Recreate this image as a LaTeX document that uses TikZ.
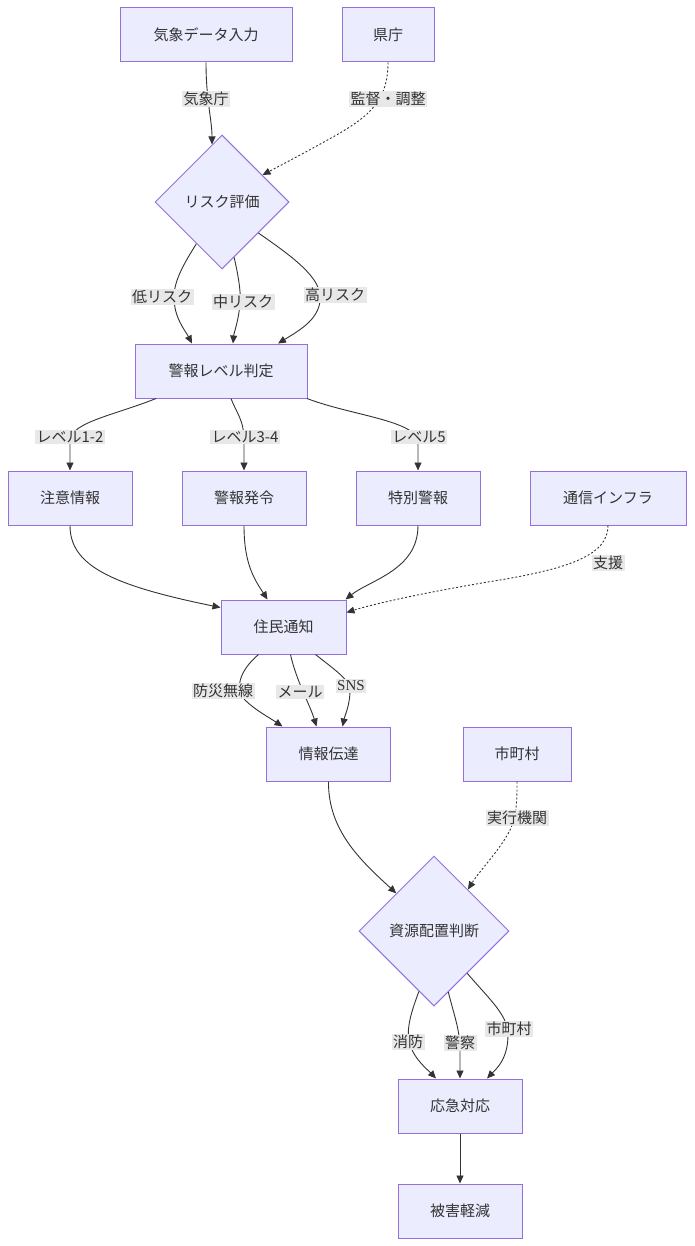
\documentclass[tikz,border=0pt]{standalone}
\usepackage{fontspec}
\setmainfont{Noto Sans CJK JP}
\newfontfamily\serifl{Liberation Serif}
\usetikzlibrary{arrows.meta,shapes.geometric,calc}
\definecolor{nodefill}{HTML}{ECECFF}
\definecolor{nodeline}{HTML}{9370DB}
\definecolor{edgecol}{HTML}{333333}
\definecolor{lblfill}{HTML}{E8E8E8}
\tikzset{
  box/.style={draw=nodeline, fill=nodefill, line width=1pt, minimum height=54pt, inner sep=0pt, text=edgecol, font=\fontsize{15}{18}\selectfont},
  dia/.style={diamond, aspect=1, draw=nodeline, fill=nodefill, line width=1pt, inner sep=0pt, text=edgecol, font=\fontsize{15}{18}\selectfont},
  lbl/.style={fill=lblfill, inner sep=1.5pt, text=edgecol, font=\fontsize{15}{18}\selectfont},
  arr/.style={draw=edgecol, line width=0.9pt, -{Triangle[length=8pt,width=7pt]}},
  dotarr/.style={arr, dash pattern=on 2pt off 2pt}
}
\begin{document}
\begin{tikzpicture}[x=1pt,y=-1pt]
\useasboundingbox (0,0) rectangle (694,1246);
% nodes
\node[box, minimum width=172pt] (in1) at (206,35) {気象データ入力};
\node[box, minimum width=92pt] (ken) at (388,35) {県庁};
\node[dia, minimum size=134pt] (risk) at (222,202) {リスク評価};
\node[box, minimum width=172pt] (lvl) at (221,371) {警報レベル判定};
\node[box, minimum width=124pt] (chui) at (70,498) {注意情報};
\node[box, minimum width=124pt] (keiho) at (244,498) {警報発令};
\node[box, minimum width=124pt] (toku) at (418,498) {特別警報};
\node[box, minimum width=156pt] (tsu) at (608,498) {通信インフラ};
\node[box, minimum width=125pt] (jumin) at (283.5,627) {住民通知};
\node[box, minimum width=124pt] (joho) at (328.5,754) {情報伝達};
\node[box, minimum width=108pt] (shicho) at (517,754) {市町村};
\node[dia, minimum size=150pt] (shigen) at (434,931) {資源配置判断};
\node[box, minimum width=124pt] (okyu) at (460,1106) {応急対応};
\node[box, minimum width=124pt] (higai) at (460,1211) {被害軽減};

% edges
\draw[arr] (in1.south) .. controls (206,100) and (212,120) .. ([xshift=-10pt,yshift=-10pt]risk.north);
\draw[dotarr] (ken.south) .. controls (388,100) and (370,115) .. (340,133) .. controls (310,150) and (285,163) .. ($(risk.north)!0.6!(risk.east)$);
\draw[arr] ($(risk.west)!0.62!(risk.south)$) .. controls (185,262) and (174,280) .. (174,297) .. controls (174,318) and (185,330) .. ([xshift=-29pt]lvl.north);
\draw[arr] ($(risk.south)!0.18!(risk.east)$) .. controls (238,275) and (241,290) .. (240,302) .. controls (239,320) and (234,332) .. ([xshift=12pt]lvl.north);
\draw[arr] ($(risk.south)!0.54!(risk.east)$) .. controls (290,255) and (318,275) .. (320,295) .. controls (322,318) and (300,330) .. ([xshift=57pt]lvl.north);
\draw[arr] ([xshift=-65pt]lvl.south) .. controls (115,415) and (72,422) .. (70,440) -- (chui.north);
\draw[arr] ([xshift=10pt]lvl.south) .. controls (236,412) and (244,420) .. (244,440) -- (keiho.north);
\draw[arr] ([xshift=86pt]lvl.south) .. controls (350,415) and (412,420) .. (418,440) -- (toku.north);
\draw[arr] (chui.south) .. controls (70,565) and (110,585) .. ([yshift=-8pt]jumin.north west);
\draw[arr] (keiho.south) .. controls (244,565) and (255,580) .. ([xshift=-16pt]jumin.north);
\draw[arr] (toku.south) .. controls (418,570) and (370,580) .. ([xshift=-1pt]jumin.north east);
\draw[dotarr] (tsu.south) .. controls (608,555) and (570,568) .. (500,580) .. controls (420,593) and (370,605) .. ([yshift=-13pt]jumin.north east);
\draw[arr] ([xshift=-25pt]jumin.south) .. controls (238,672) and (235,690) .. (245,700) .. controls (255,710) and (270,718) .. ([xshift=-46pt]joho.north);
\draw[arr] ([xshift=7pt]jumin.south) .. controls (296,680) and (310,705) .. ([xshift=-12pt]joho.north);
\draw[arr] ([xshift=32pt]jumin.south) .. controls (335,670) and (350,680) .. (350,690) .. controls (350,705) and (345,715) .. ([xshift=14pt]joho.north);
\draw[arr] (joho.south) .. controls (328,830) and (360,860) .. ($(shigen.north)!0.5!(shigen.west)$);
\draw[dotarr] (shicho.south) .. controls (517,800) and (517,815) .. (510,830) .. controls (500,850) and (480,870) .. ($(shigen.north)!0.45!(shigen.east)$);
\draw[arr] ($(shigen.west)!0.8!(shigen.south)$) .. controls (412,1010) and (405,1030) .. (410,1045) .. controls (415,1060) and (428,1070) .. ([xshift=-24pt]okyu.north);
\draw[arr] ($(shigen.south)!0.19!(shigen.east)$) .. controls (454,1015) and (460,1030) .. (460,1050) -- (okyu.north);
\draw[arr] ($(shigen.south)!0.44!(shigen.east)$) .. controls (490,1000) and (508,1015) .. (508,1035) .. controls (508,1060) and (495,1070) .. ([xshift=27pt]okyu.north);
\draw[arr] (okyu.south) -- (higai.north);

% labels
\node[lbl] (l1) at (206,99) {気象庁};
\node[lbl] (l2) at (388,99) {監督・調整};
\node[lbl] (l3) at (162,297) {低リスク};
\node[lbl] (l4) at (243,302) {中リスク};
\node[lbl] (l5) at (335,295) {高リスク};
\node[lbl] (l6) at (70,437) {レベル1-2};
\node[lbl] (l7) at (245,437) {レベル3-4};
\node[lbl] (l8) at (419,437) {レベル5};
\node[lbl] (l9) at (608,563) {支援};
\node[lbl] (l10) at (223,691) {防災無線};
\node[lbl] (l11) at (300,692) {メール};
\node[lbl] (l12) at (351,686) {\serifl SNS};
\node[lbl] (l13) at (517,818) {実行機関};
\node[lbl] (l14) at (408,1042) {消防};
\node[lbl] (l15) at (460,1043) {警察};
\node[lbl] (l16) at (509,1029) {市町村};
\end{tikzpicture}
\end{document}
